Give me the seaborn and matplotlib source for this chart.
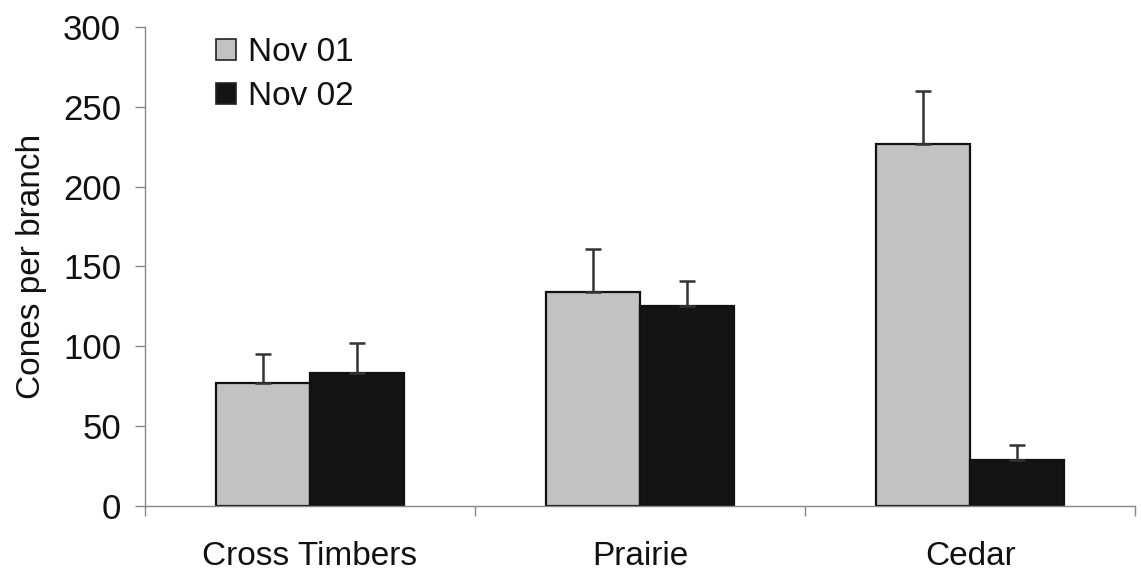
import matplotlib
matplotlib.use("Agg")
import matplotlib.pyplot as plt
import numpy as np
import pandas as pd
import seaborn as sns
from matplotlib.patches import Patch

# Mean cones per branch and upper error (SE) by site and survey date
sites = ["Cross Timbers", "Prairie", "Cedar"]
dates = ["Nov 01", "Nov 02"]
nov01_mean = [77, 134, 227]
nov02_mean = [83, 125, 29]
nov01_err = [18, 27, 33]
nov02_err = [19, 16, 9]
y_ticks = [0, 50, 100, 150, 200, 250, 300]

df = pd.DataFrame({
    "site": sites * 2,
    "date": [dates[0]] * 3 + [dates[1]] * 3,
    "cones": nov01_mean + nov02_mean,
    "err": nov01_err + nov02_err,
})

sns.set_style("white")
plt.rcParams["font.family"] = ["Liberation Sans", "DejaVu Sans"]
plt.rcParams["text.color"] = "#111111"
plt.rcParams["axes.labelcolor"] = "#111111"
plt.rcParams["xtick.color"] = "#111111"
plt.rcParams["ytick.color"] = "#111111"

colors = {"Nov 01": "#c2c2c2", "Nov 02": "#141414"}

fig = plt.figure(figsize=(11.41, 5.82), dpi=100)
ax = fig.add_axes([0.127, 0.1306, 0.868, 0.823])

sns.barplot(data=df, x="site", y="cones", hue="date", order=sites,
            hue_order=dates, palette=colors, errorbar=None, width=0.57,
            edgecolor="#111111", linewidth=1.6, legend=False, ax=ax)

# upper-only error bars placed at each bar's centre
for container, date in zip(ax.containers, dates):
    sub = df[df["date"] == date].set_index("site").loc[sites]
    xs = [p.get_x() + p.get_width() / 2 for p in container.patches]
    ax.errorbar(xs, sub["cones"].values,
                yerr=[np.zeros(len(xs)), sub["err"].values],
                fmt="none", ecolor="#333333", elinewidth=1.8,
                capsize=6, capthick=1.8, zorder=1)

ax.set_xlim(-0.5, 2.5)
ax.set_ylim(0, 300)
ax.set_yticks(y_ticks)
ax.set_yticklabels([str(t) for t in y_ticks])
ax.set_xlabel("")
ax.set_ylabel("Cones per branch", fontsize=24, labelpad=12)

# category boundary ticks on the x axis
ax.set_xticks([0, 1, 2])
ax.set_xticks([-0.5, 0.5, 1.5, 2.5], minor=True)
ax.tick_params(axis="x", which="major", length=0, labelsize=24, pad=25)
ax.tick_params(axis="x", which="minor", length=7, width=1, color="#888888",
               direction="out", bottom=True)
ax.tick_params(axis="y", length=7, width=1, color="#888888",
               direction="out", labelsize=25, left=True, pad=10)

for side in ["top", "right"]:
    ax.spines[side].set_visible(False)
for side in ["left", "bottom"]:
    ax.spines[side].set_color("#888888")
    ax.spines[side].set_linewidth(1)

handles = [Patch(facecolor=colors[d], edgecolor="#222222", linewidth=1.2, label=d)
           for d in dates]
ax.legend(handles=handles, loc="upper left", bbox_to_anchor=(0.041, 1.042),
          frameon=False, fontsize=24, handlelength=0.6, handleheight=0.6,
          handletextpad=0.36, labelspacing=0.4)

fig.savefig("out.png", dpi=100)
